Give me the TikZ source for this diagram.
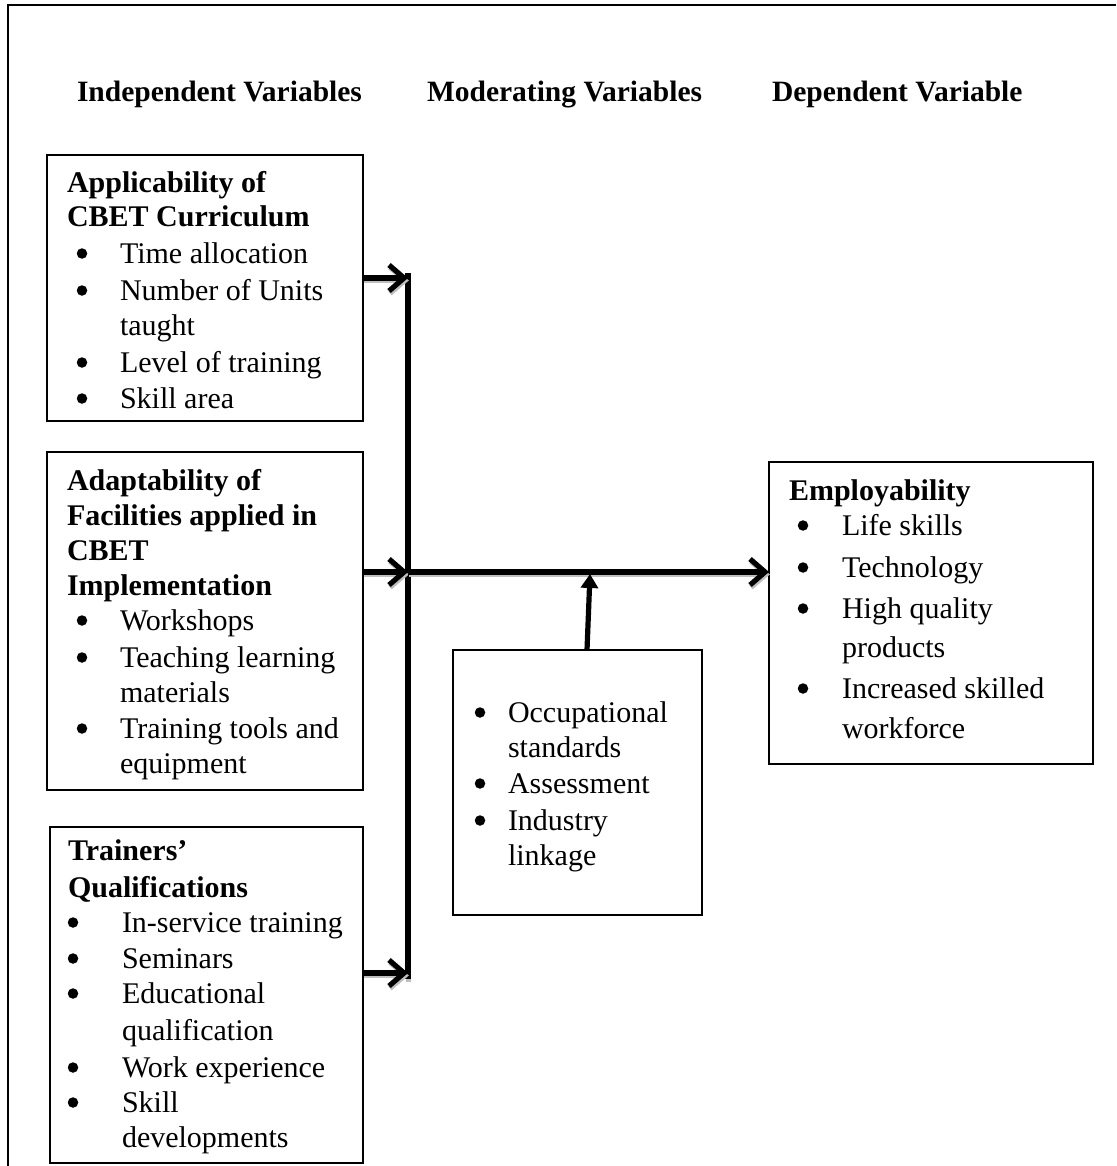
\documentclass[tikz,border=0pt]{standalone}
\usepackage{fontspec}
\setmainfont{Liberation Serif}
\usetikzlibrary{arrows.meta}
\begin{document}
\begin{tikzpicture}[x=1pt,y=-1pt,
  every node/.style={inner sep=0pt, outer sep=0pt, font=\fontsize{30}{35}\selectfont},
  txt/.style={anchor=base west},
  ttl/.style={anchor=base west, font=\fontsize{30}{35}\selectfont\bfseries},
  hdr/.style={anchor=base west, font=\fontsize{29.5}{35}\selectfont\bfseries},
  bul/.style={circle, fill=black, minimum size=10.5pt, yshift=9.5pt},
  box/.style={draw, line width=1.7pt, anchor=north west},
  shade/.style={preaction={draw=gray!50, line width=5pt, transform canvas={shift={(0.8pt,-2.5pt)}}}},
  arr/.style={line width=5.2pt, -{Straight Barb[length=15pt,width=26pt]}, shade},
  plainarr/.style={line width=5.2pt, -{Triangle[length=14pt,width=17pt]}},
  bus/.style={line width=5.2pt, shade}
]
\useasboundingbox (0,0) rectangle (1116,1166);
% outer frame
\coordinate (f1) at (1116,5);
\coordinate (f2) at (8,5);
\coordinate (f3) at (8,1166);
\draw[line width=1.8pt] (f1) -- (f2) -- (f3);

% headers
\node[hdr] (h1) at (77,102) {Independent Variables};
\node[hdr] (h2) at (427,102) {Moderating Variables};
\node[hdr] (h3) at (772,102) {Dependent Variable};

% boxes
\node[box, minimum width=316pt, minimum height=266pt] (b1) at (47,155) {};
\node[box, minimum width=316pt, minimum height=338pt] (b2) at (47,452) {};
\node[box, minimum width=313pt, minimum height=336pt] (b3) at (50,827) {};
\node[box, minimum width=249pt, minimum height=265pt] (mod) at (453,650) {};
\node[box, minimum width=324pt, minimum height=302pt] (emp) at (769,462) {};

% box 1
\node[ttl] (b1t1) at (67,193) {Applicability of};
\node[ttl] (b1t2) at (67,227) {CBET Curriculum};
\node[bul] (b1b1) at (82,263) {};
\node[bul] (b1b2) at (82,300) {};
\node[bul] (b1b3) at (82,372) {};
\node[bul] (b1b4) at (82,408) {};
\node[txt] (b1x1) at (120,263) {Time allocation};
\node[txt] (b1x2) at (120,300) {Number of Units};
\node[txt] (b1x3) at (120,335) {taught};
\node[txt] (b1x4) at (120,372) {Level of training};
\node[txt] (b1x5) at (120,408) {Skill area};

% box 2
\node[ttl] (b2t1) at (67,490) {Adaptability of};
\node[ttl] (b2t2) at (67,525) {Facilities applied in};
\node[ttl] (b2t3) at (67,560) {CBET};
\node[ttl] (b2t4) at (67,595) {Implementation};
\node[bul] (b2b1) at (82,630) {};
\node[bul] (b2b2) at (82,667) {};
\node[bul] (b2b3) at (82,738) {};
\node[txt] (b2x1) at (120,630) {Workshops};
\node[txt] (b2x2) at (120,667) {Teaching learning};
\node[txt] (b2x3) at (120,702) {materials};
\node[txt] (b2x4) at (120,738) {Training tools and};
\node[txt] (b2x5) at (120,773) {equipment};

% box 3
\node[ttl] (b3t1) at (68,860) {Trainers’};
\node[ttl] (b3t2) at (68,897) {Qualifications};
\node[bul] (b3b1) at (73,932) {};
\node[bul] (b3b2) at (73,968) {};
\node[bul] (b3b3) at (73,1003) {};
\node[bul] (b3b4) at (73,1077) {};
\node[bul] (b3b5) at (73,1112) {};
\node[txt] (b3x1) at (122,932) {In-service training};
\node[txt] (b3x2) at (122,968) {Seminars};
\node[txt] (b3x3) at (122,1003) {Educational};
\node[txt] (b3x4) at (122,1040) {qualification};
\node[txt] (b3x5) at (122,1077) {Work experience};
\node[txt] (b3x6) at (122,1112) {Skill};
\node[txt] (b3x7) at (122,1147) {developments};

% moderating box
\node[bul] (mb1) at (480,722) {};
\node[bul] (mb2) at (480,793) {};
\node[bul] (mb3) at (480,830) {};
\node[txt] (mx1) at (508,722) {Occupational};
\node[txt] (mx2) at (508,757) {standards};
\node[txt] (mx3) at (508,793) {Assessment};
\node[txt] (mx4) at (508,830) {Industry};
\node[txt] (mx5) at (508,865) {linkage};

% employability box
\node[ttl] (et) at (789,500) {Employability};
\node[bul] (eb1) at (803,535) {};
\node[bul] (eb2) at (803,577) {};
\node[bul] (eb3) at (803,618) {};
\node[bul] (eb4) at (803,698) {};
\node[txt] (ex1) at (842,535) {Life skills};
\node[txt] (ex2) at (842,577) {Technology};
\node[txt] (ex3) at (842,618) {High quality};
\node[txt] (ex4) at (842,657) {products};
\node[txt] (ex5) at (842,698) {Increased skilled};
\node[txt] (ex6) at (842,738) {workforce};

% connectors
\coordinate (j1) at (408,278);
\coordinate (j2) at (408,572);
\coordinate (j3) at (408,973);
\coordinate (btop) at (408,273);
\coordinate (bbot) at (408,979);
\coordinate (ma) at (587,650);
\coordinate (mtip) at (590,574);

\draw[bus] (btop) -- (bbot);
\draw[arr] (b1.east |- j1) -- (j1);
\draw[arr] (b2.east |- j2) -- (j2);
\draw[arr] (b3.east |- j3) -- (j3);
\draw[arr] (j2) -- (emp.west |- j2);
\draw[plainarr] (mod.north -| ma) -- (mtip);
\end{tikzpicture}
\end{document}
